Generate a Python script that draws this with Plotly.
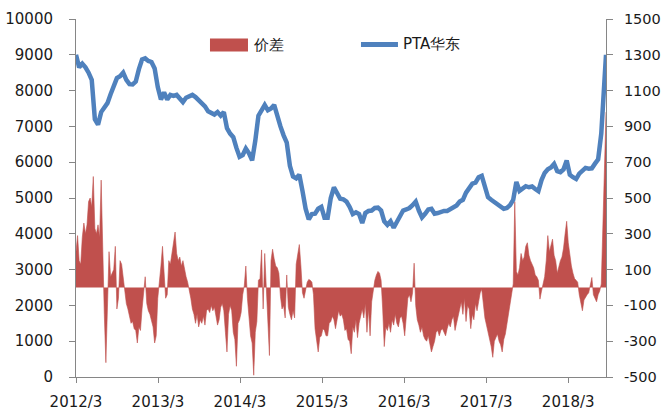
import pandas as pd
import plotly.graph_objects as go

# ---------------- data ----------------
start_date = "2012-03-01"
n_weeks = 338

spread = [
    200, 290, 150, 130, 280, 360, 300, 350, 480, 500,
    450, 620, 330, 300, 350, 280, 600, 150, -150, -420,
    -60, 200, 60, 80, 100, 230, -120, -60, 150, 130,
    60, -30, -90, -120, -160, -200, -190, -230, -240, -310,
    -220, -240, -120, -20, 60, -90, -130, -150, -190, -220,
    -310, -270, -60, 20, 120, 230, 40, -60, -40, 150,
    130, 200, 250, 310, 190, 150, 170, 120, 150, 100,
    60, 30, -10, -60, -120, -150, -200, -150, -220, -180,
    -200, -160, -210, -130, -120, -140, -100, -130, -110, -170,
    -210, -180, -110, -90, -130, -250, -360, -150, -100, -130,
    -250, -290, -440, -200, -180, -140, -40, 10, 120, -60,
    -160, -270, -310, -490, -250, -190, 40, 50, 210, -120,
    190, 20, -150, -380, 150, 214, 160, 120, 110, 80,
    -50, -120, -100, -170, 70, -110, -150, -180, -130, -170,
    130, 200, 240, 120, -30, -60, -20, 30, 45, 40,
    30, -40, -230, -300, -360, -280, -270, -230, -240, -270,
    -270, -200, -190, -160, -180, -230, -180, -130, -160, -150,
    -180, -240, -230, -290, -300, -370, -220, -250, -180, -280,
    -200, -160, -120, -170, -90, -250, -120, -270, -80, -20,
    40, 70, 90, 80, 40, -120, -330, -220, -240, -200,
    -250, -180, -210, -150, -200, -220, -170, -160, -200, -270,
    -150, -60, -40, -80, -30, 136, -100, -180, -210, -250,
    -220, -270, -290, -300, -270, -320, -360, -330, -300, -250,
    -240, -270, -240, -230, -250, -270, -230, -200, -220, -180,
    -160, -240, -200, -160, -120, -80, -150, -60, -190, -100,
    -120, -230, -150, -180, -90, -130, -80, -30, -10, -100,
    -170, -210, -250, -290, -330, -390, -300, -280, -260, -300,
    -320, -360, -290, -260, -200, -160, -100, -40, 20, 480,
    90, 70, 110, 190, 150, 170, 230, 250, 180, 150,
    130, 110, 70, 60, 40, -65, -20, 30, 60, 150,
    290, 200, 240, 270, 180, 150, 80, 120, 150, 170,
    220, 300, 370, 250, 170, 120, 80, 50, 40, 30,
    -40, -90, -130, -70, -50, -40, -30, 20, 56, -40,
    -60, -80, -40, -20, 20, 350, 700, 980,
]

pta_east = [
    9000, 8650, 8750, 8650, 8500, 8300, 7200, 7050, 7400, 7550,
    7650, 7900, 8150, 8350, 8400, 8500, 8300, 8180, 8170, 8250,
    8600, 8870, 8900, 8830, 8800, 8620, 8100, 7750, 7950, 7750,
    7880, 7850, 7880, 7800, 7680, 7800, 7830, 7880, 7820, 7740,
    7680, 7560, 7420, 7380, 7330, 7400, 7300, 7400, 6950, 6800,
    6700, 6400, 6150, 6200, 6380, 6250, 6050, 6600, 7300, 7450,
    7600, 7450, 7500, 7600, 7250, 7000, 6750, 6550, 5900, 5600,
    5550, 5650, 5200, 4700, 4400, 4550, 4560, 4700, 4750, 4450,
    4450, 5000, 5300, 5150, 4980, 4960, 4900, 4750, 4550, 4600,
    4550, 4300, 4580, 4640, 4650, 4720, 4730, 4650, 4350, 4250,
    4350, 4170, 4320, 4500, 4650, 4680, 4720, 4800, 4900, 4650,
    4460, 4560, 4680, 4700, 4560, 4580, 4620, 4640, 4640, 4680,
    4730, 4790, 4900, 4950, 5150, 5300, 5400, 5430, 5580, 5620,
    5300, 5020, 4950, 4880, 4800, 4730, 4700, 4720, 4800, 4950,
    5450, 5200, 5250, 5330, 5300, 5320, 5250, 5190, 5500, 5700,
    5800, 5850, 5950, 5750, 5720, 5800, 6050, 5650, 5580, 5530,
    5680, 5760, 5840, 5820, 5830, 5960, 6080, 6800, 8100,
    9000,
]

x_tick_dates = ["2012-03-01", "2013-03-01", "2014-03-01", "2015-03-01",
                "2016-03-01", "2017-03-01", "2018-03-01"]
x_tick_text = ["2012/3", "2013/3", "2014/3", "2015/3", "2016/3", "2017/3", "2018/3"]

left_tick_vals = [0, 1000, 2000, 3000, 4000, 5000, 6000, 7000, 8000, 9000, 10000]
left_tick_text = [str(v) for v in left_tick_vals]
right_tick_vals = [-500, -300, -100, 100, 300, 500, 700, 900, 1100, 1300, 1500]
right_tick_text = [str(v) for v in right_tick_vals]

name_spread = "价差"
name_price = "PTA华东"

# ---------------- build ----------------
weekly = pd.date_range(start_date, periods=n_weeks, freq="7D")
price_dates = list(weekly[0::2]) + [weekly[-1]]

RED = "#C0504D"
BLUE = "#4F81BD"
AXIS = "#868686"
TXT = "#1a1a1a"
FONT = "DejaVu Sans"

fig = go.Figure()
fig.add_trace(go.Scatter(
    x=weekly, y=spread, name=name_spread, mode="lines",
    fill="tozeroy", fillcolor=RED,
    line=dict(color=RED, width=0.6), yaxis="y", showlegend=False,
))
fig.add_trace(go.Scatter(
    x=price_dates, y=pta_east, name=name_price, mode="lines",
    line=dict(color=BLUE, width=4.5), yaxis="y2", showlegend=False,
))

axis_common = dict(showline=True, linecolor=AXIS, linewidth=1, ticks="outside",
                   tickcolor=AXIS, showgrid=False, zeroline=False, automargin=False)

fig.update_layout(
    width=662, height=417,
    margin=dict(l=76, r=56, t=19, b=40, autoexpand=False),
    paper_bgcolor="white", plot_bgcolor="white",
    showlegend=False,
    xaxis=dict(type="date", range=[weekly[0], weekly[-1]],
               tickmode="array", tickvals=x_tick_dates, ticktext=x_tick_text,
               ticklen=5, ticklabelstandoff=6,
               tickfont=dict(family=FONT, size=15, color=TXT), **axis_common),
    yaxis=dict(side="right", range=[-500, 1500], tickmode="array",
               tickvals=right_tick_vals, ticktext=right_tick_text,
               ticklen=6, ticklabelstandoff=8,
               tickfont=dict(family=FONT, size=14.5, color=TXT), **axis_common),
    yaxis2=dict(side="left", overlaying="y", range=[0, 10000], tickmode="array",
                tickvals=left_tick_vals, ticktext=left_tick_text,
                ticklen=6, ticklabelstandoff=13,
                tickfont=dict(family=FONT, size=15, color=TXT), **axis_common),
)

# legend (drawn by hand to match the swatch shapes)
fig.add_shape(type="rect", xref="paper", yref="paper",
              x0=0.2528, x1=0.3245, y0=0.9092, y1=0.9455,
              fillcolor=RED, line=dict(width=0))
fig.add_annotation(xref="paper", yref="paper", x=0.330, y=0.9274,
                   text=name_spread, showarrow=False, xanchor="left", yanchor="middle",
                   font=dict(family=FONT, size=15, color=TXT))
fig.add_shape(type="line", xref="paper", yref="paper",
              x0=0.5377, x1=0.6075, y0=0.9288, y1=0.9288,
              line=dict(color=BLUE, width=5))
fig.add_annotation(xref="paper", yref="paper", x=0.613, y=0.9288,
                   text=name_price, showarrow=False, xanchor="left", yanchor="middle",
                   font=dict(family=FONT, size=15, color=TXT))

fig.write_html(
    "out.html",
    config={"displayModeBar": False},
    post_script="document.body.style.margin='0';document.body.style.overflow='hidden';",
)
